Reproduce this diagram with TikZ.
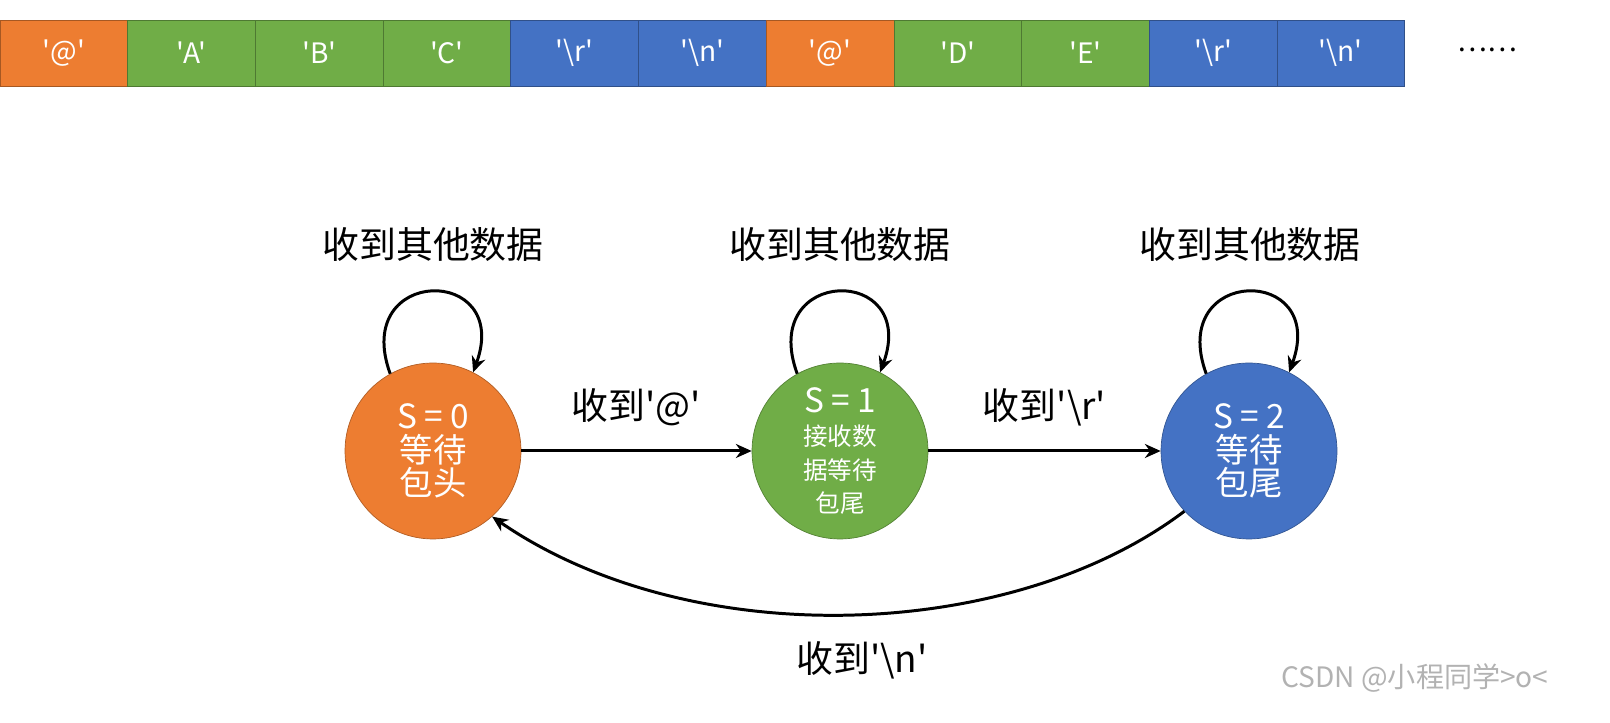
\documentclass[tikz,border=0pt]{standalone}
\usepackage{fontspec}
\setmainfont{Noto Sans CJK SC}[Ligatures=TeXOff]
\usepackage{xcolor}
\usetikzlibrary{arrows.meta,
                positioning,
                shapes}
\definecolor{orng}{HTML}{ED7D31}
\definecolor{grn}{HTML}{70AD47}
\definecolor{blu}{HTML}{4472C4}
\newcommand{\cells}[1]{%
    \foreach \txt/\col [count=\n starting from 0] in {#1}{
      \node[cell, fill=\col, draw=\col!70!black] (c\n) at (63.85+127.7*\n,670) {\txt};
    }
}
\tikzset{
  cell/.style={minimum width=2.554cm, minimum height=1.32cm, inner sep=0pt,
               text=white, font=\fontsize{16}{19}\selectfont},
  state/.style={circle, minimum size=3.52cm, inner sep=0pt, text=white,
                align=center, font=\fontsize{19}{23}\selectfont},
  arrow/.style={line width=1.7pt, -{Stealth[length=9pt,width=8pt]}},
  lbl/.style={font=\fontsize{21}{24}\selectfont}
}
\begin{document}
\begin{tikzpicture}[x=0.02cm,y=0.02cm]
    \useasboundingbox (0,0) rectangle (1610,723);

    \cells{'@'/orng,'A'/grn,'B'/grn,'C'/grn,'\textbackslash r'/blu,'\textbackslash n'/blu,'@'/orng,'D'/grn,'E'/grn,'\textbackslash r'/blu,'\textbackslash n'/blu}
    \node[font=\fontsize{16}{19}\selectfont] (dots) at (1487,673) {……};

    \node[state, fill=orng, draw=orng!75!black] (s0) at (433,272) {S = 0\\[-4pt]等待\\[-4pt]包头};
    \node[state, fill=grn, draw=grn!75!black] (s1) at (840,272)
         {S = 1\\[-4pt]{\fontsize{14}{17}\selectfont 接收数}\\[-4pt]{\fontsize{14}{17}\selectfont 据等待}\\[-4pt]{\fontsize{14}{17}\selectfont 包尾}};
    \node[state, fill=blu, draw=blu!75!black] (s2) at (1249,272) {S = 2\\[-4pt]等待\\[-4pt]包尾};

    % self loops
    \foreach \s in {s0,s1,s2}{
      \draw[arrow] (\s.119) .. controls +(110:115) and +(70:115) .. (\s.63);
    }
    \node[lbl] (l0) at (433,478) {收到其他数据};
    \node[lbl] (l1) at (840,478) {收到其他数据};
    \node[lbl] (l2) at (1250,478) {收到其他数据};

    \draw[arrow] (s0) -- (s1) node[lbl, midway, above=10pt] (a1) {收到'@'};
    \draw[arrow] (s1) -- (s2) node[lbl, midway, above=10pt] (a2) {收到'\textbackslash r'};
    \draw[arrow] (s2.223) .. controls (1010,80) and (690,70) .. (s0.312);
    \node[lbl] (a3) at (862,63) {收到'\textbackslash n'};

    \node[text=black!30, font=\fontsize{16}{19}\selectfont] (wm) at (1415,45) {CSDN @小程同学>o<};
\end{tikzpicture}
\end{document}
